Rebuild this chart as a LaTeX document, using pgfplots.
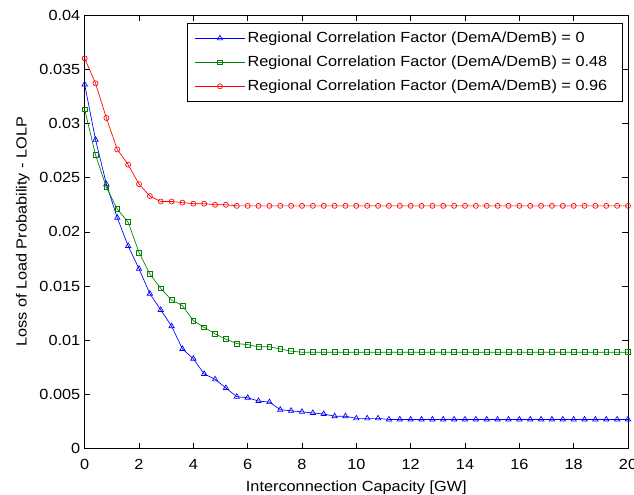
\documentclass[border=0pt]{standalone}
\usepackage{pgfplots}
\pgfplotsset{compat=1.18}
\usepackage{pgfplotstable}
\usepackage{fontspec}
\setmainfont{Liberation Sans}[FakeStretch=1.11]
\definecolor{mblue}{rgb}{0,0,1}
\definecolor{mgreen}{rgb}{0,0.5,0}
\definecolor{mred}{rgb}{1,0,0}
\pgfplotstableread{
x b g r
0.0 0.0336 0.0313 0.0360
0.4 0.0285 0.0271 0.0337
0.8 0.0244 0.0241 0.0305
1.2 0.0213 0.0221 0.0276
1.6 0.0187 0.0209 0.0262
2.0 0.0166 0.0181 0.0244
2.4 0.0143 0.0161 0.0233
2.8 0.0128 0.0148 0.0228
3.2 0.0113 0.0137 0.0228
3.6 0.0092 0.0132 0.0227
4.0 0.0083 0.0118 0.0226
4.4 0.0069 0.0112 0.0226
4.8 0.0064 0.0106 0.0225
5.2 0.0056 0.0101 0.0225
5.6 0.0048 0.0097 0.0224
6.0 0.0047 0.0096 0.0224
6.4 0.0044 0.0094 0.0224
6.8 0.0043 0.0094 0.0224
7.2 0.0036 0.0092 0.0224
7.6 0.0035 0.0090 0.0224
8.0 0.0034 0.0089 0.0224
8.4 0.0033 0.0089 0.0224
8.8 0.0032 0.0089 0.0224
9.2 0.0030 0.0089 0.0224
9.6 0.0030 0.0089 0.0224
10.0 0.0028 0.0089 0.0224
10.4 0.0028 0.0089 0.0224
10.8 0.0028 0.0089 0.0224
11.2 0.0027 0.0089 0.0224
11.6 0.0027 0.0089 0.0224
12.0 0.0027 0.0089 0.0224
12.4 0.0027 0.0089 0.0224
12.8 0.0027 0.0089 0.0224
13.2 0.0027 0.0089 0.0224
13.6 0.0027 0.0089 0.0224
14.0 0.0027 0.0089 0.0224
14.4 0.0027 0.0089 0.0224
14.8 0.0027 0.0089 0.0224
15.2 0.0027 0.0089 0.0224
15.6 0.0027 0.0089 0.0224
16.0 0.0027 0.0089 0.0224
16.4 0.0027 0.0089 0.0224
16.8 0.0027 0.0089 0.0224
17.2 0.0027 0.0089 0.0224
17.6 0.0027 0.0089 0.0224
18.0 0.0027 0.0089 0.0224
18.4 0.0027 0.0089 0.0224
18.8 0.0027 0.0089 0.0224
19.2 0.0027 0.0089 0.0224
19.6 0.0027 0.0089 0.0224
20.0 0.0027 0.0089 0.0224
}\datatable
\begin{document}
\begin{tikzpicture}
\begin{axis}[
  scale only axis,
  width=407.5pt, height=325.3pt,
  xmin=0, xmax=20, ymin=0, ymax=0.04,
  xtick={0,2,...,20},
  ytick={0,0.005,0.01,0.015,0.02,0.025,0.03,0.035,0.04},
  yticklabels={0,0.005,0.01,0.015,0.02,0.025,0.03,0.035,0.04},
  scaled y ticks=false,
  /pgf/number format/assume math mode=true,
  tick align=inside,
  major tick length=4.2pt,
  tick style={black, line width=0.5pt},
  axis line style={black, line width=0.6pt},
  font=\fontsize{11}{13}\selectfont,
  ticklabel style={font=\fontsize{11}{13}\selectfont},
  xticklabel style={yshift=-4.2pt},
  yticklabel style={xshift=0.2pt},
  xlabel={Interconnection Capacity [GW]},
  ylabel={Loss of Load Probability - LOLP},
  xlabel style={at={(axis description cs:0.5,-0.0975)}, anchor=base},
  ylabel style={at={(axis description cs:-0.1067,0.5)}, anchor=base},
  legend cell align=left,
  legend image code/.code={
    \draw[#1, mark repeat=2, mark phase=2] plot coordinates {(0pt,0pt) (18.5pt,0pt) (37pt,0pt)};
  },
  legend style={
    font=\fontsize{11}{13}\selectfont,
    draw=black, line width=0.6pt,
    at={(1,1)}, anchor=north east,
    xshift=-3.75pt, yshift=-6pt,
    inner xsep=5.5pt, inner ysep=4.5pt,
    nodes={inner sep=2pt},
    row sep=4.5pt,
    /tikz/every even column/.append style={column sep=0.3pt},
  },
]
\addplot[mblue, line width=0.5pt, mark=triangle, mark size=2.3pt, mark options={solid}] table[x=x, y=b] {\datatable};
\addlegendentry{Regional Correlation Factor (DemA/DemB) = 0\hspace*{4pt}}
\addplot[mgreen, line width=0.5pt, mark=square, mark size=1.8pt, mark options={solid}] table[x=x, y=g] {\datatable};
\addlegendentry{Regional Correlation Factor (DemA/DemB) = 0.48\hspace*{4pt}}
\addplot[mred, line width=0.5pt, mark=o, mark size=1.9pt, mark options={solid}] table[x=x, y=r] {\datatable};
\addlegendentry{Regional Correlation Factor (DemA/DemB) = 0.96\hspace*{4pt}}
\end{axis}
\pgfresetboundingbox
\path[use as bounding box] (-63.5pt,-34.7pt) rectangle (412pt,336.55pt);
\end{tikzpicture}
\end{document}
